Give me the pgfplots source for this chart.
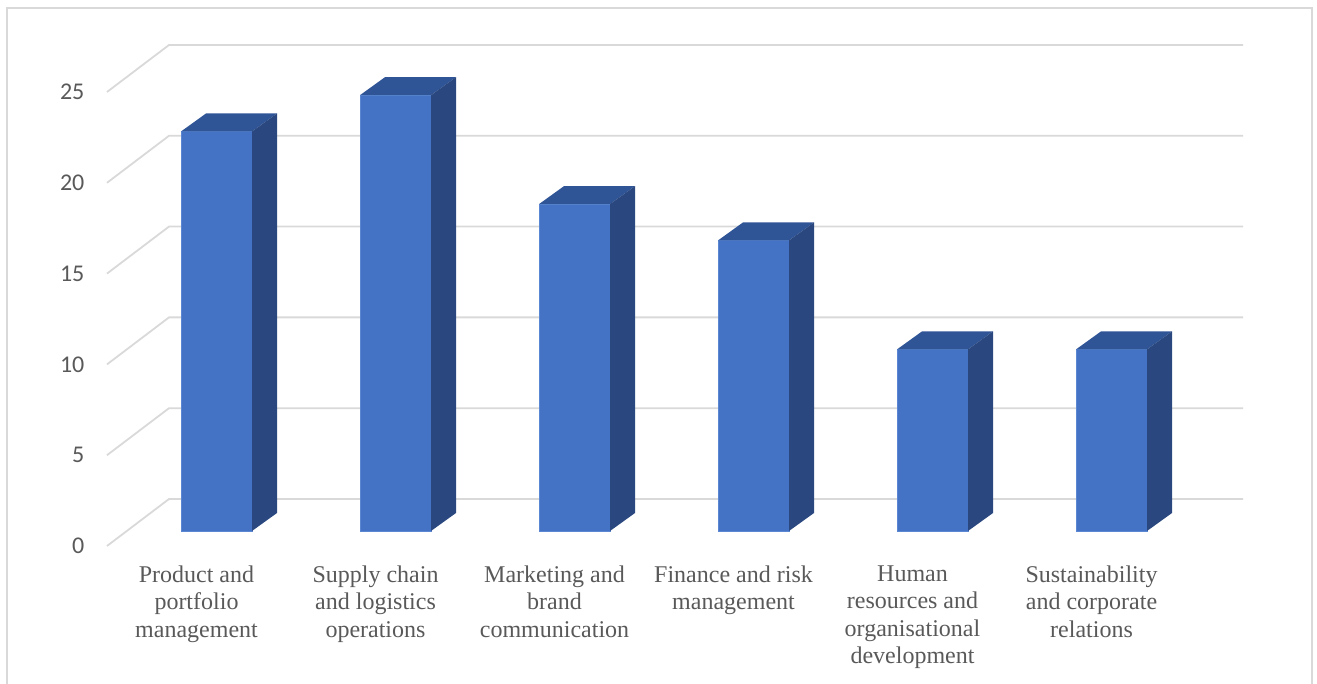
\documentclass[border=0pt]{standalone}
\usepackage{pgfplots}
\pgfplotsset{compat=1.18}
\usepackage{fontspec}
\setmainfont{Liberation Serif}
\newfontfamily\calibri{Carlito}
\definecolor{frontcol}{HTML}{4472C4}
\definecolor{topcol}{HTML}{2F5597}
\definecolor{sidecol}{HTML}{2A487F}
\definecolor{edgecol}{HTML}{5B87D2}
\definecolor{gridcol}{HTML}{D9D9D9}
\definecolor{txtcol}{HTML}{595959}
% bar geometry (pt): half width 17.75, depth (12.5, 9)
\pgfdeclareplotmark{bartop}{%
  \pgfpathmoveto{\pgfpoint{-17.75pt}{0pt}}%
  \pgfpathlineto{\pgfpoint{17.75pt}{0pt}}%
  \pgfpathlineto{\pgfpoint{30.25pt}{9pt}}%
  \pgfpathlineto{\pgfpoint{-5.25pt}{9pt}}%
  \pgfpathclose
  \pgfusepath{fill}%
}
\pgfdeclareplotmark{barside}{%
  \pgfmathsetmacro\H{\val*9.08}%
  \pgfpathmoveto{\pgfpoint{17.75pt}{0pt}}%
  \pgfpathlineto{\pgfpoint{30.25pt}{9pt}}%
  \pgfpathlineto{\pgfpoint{30.25pt}{9pt-\H pt}}%
  \pgfpathlineto{\pgfpoint{17.75pt}{-\H pt}}%
  \pgfpathclose
  \pgfusepath{fill}%
}
\pgfplotstableread{
x v
0 22
1 24
2 18
3 16
4 10
5 10
}\bardata
\begin{document}
\begin{tikzpicture}
\begin{axis}[
  x=89.5pt, y=9.08pt,
  xmin=-0.5, xmax=5.5, ymin=0, ymax=25,
  enlargelimits=false, clip=false,
  axis x line=bottom, axis y line=left,
  axis line style={draw=none},
  tick style={draw=none},
  xtick={0,1,2,3,4,5},
  xticklabels={{Product and\\portfolio\\management},
               {Supply chain\\and logistics\\operations},
               {Marketing and\\brand\\communication},
               {Finance and risk\\management},
               {Human\\resources and\\organisational\\development},
               {Sustainability\\and corporate\\relations}},
  xticklabel style={align=center, anchor=north, inner sep=0pt, yshift=-7.5pt,
    font=\fontsize{12}{13.75}\selectfont, text=txtcol},
  ytick={0,5,10,15,20,25},
  yticklabel style={anchor=east, inner sep=0pt, xshift=-9pt,
    font=\calibri\fontsize{12}{14}\selectfont, text=txtcol},
  /pgf/number format/assume math mode=true,
]
% chart area frame
\draw[gridcol, line width=1pt] (axis cs:-1.05866,-7.6) -- (axis cs:-1.05866,29.626) -- (axis cs:6.23184,29.626) -- (axis cs:6.23184,-7.6);
% 3D grid lines: diagonal from front to back wall, then along back wall
\addplot[gridcol, line width=0.9pt] coordinates {(-0.5,0) (-0.15363,2.5881) (5.84637,2.5881)};
\addplot[gridcol, line width=0.9pt] coordinates {(-0.5,5) (-0.15363,7.5881) (5.84637,7.5881)};
\addplot[gridcol, line width=0.9pt] coordinates {(-0.5,10) (-0.15363,12.5881) (5.84637,12.5881)};
\addplot[gridcol, line width=0.9pt] coordinates {(-0.5,15) (-0.15363,17.5881) (5.84637,17.5881)};
\addplot[gridcol, line width=0.9pt] coordinates {(-0.5,20) (-0.15363,22.5881) (5.84637,22.5881)};
\addplot[gridcol, line width=0.9pt] coordinates {(-0.5,25) (-0.15363,27.5881) (5.84637,27.5881)};
% front faces
\addplot[ybar, bar width=35.5pt, fill=frontcol, draw=edgecol, line width=0.4pt,
  xshift=10pt, yshift=7.5pt] table[x=x, y=v] {\bardata};
% top faces
\addplot[only marks, mark=bartop, mark options={fill=topcol, draw=none},
  xshift=10pt, yshift=7.5pt] table[x=x, y=v] {\bardata};
% side faces
\addplot[only marks, scatter, mark=barside,
  scatter/use mapped color={fill=sidecol, draw=none},
  visualization depends on={\thisrow{v} \as \val},
  xshift=10pt, yshift=7.5pt] table[x=x, y=v] {\bardata};
\coordinate (bbll) at (axis cs:-1.09777,-7.5991);
\coordinate (bbur) at (axis cs:6.25978,30.0661);
\end{axis}
\pgfresetboundingbox
\path[use as bounding box] (bbll) rectangle (bbur);
\end{tikzpicture}
\end{document}
